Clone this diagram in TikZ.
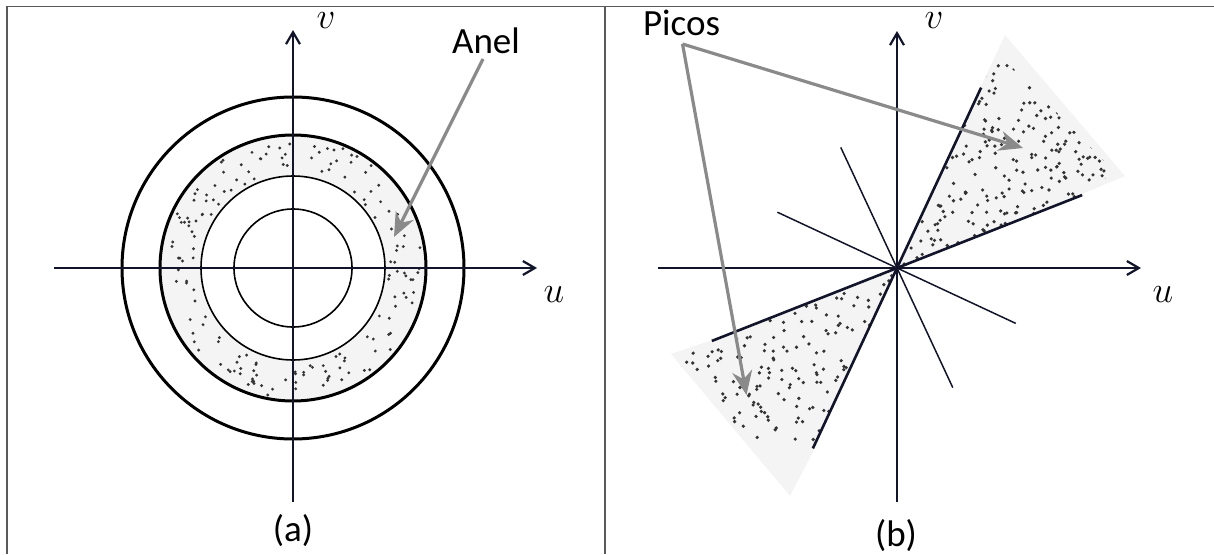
\RequirePackage{fix-cm}
\documentclass[tikz,border=0pt]{standalone}
\usepackage{graphicx}
\usepackage{fontspec}
\setmainfont{Carlito}
\usetikzlibrary{arrows.meta}
\definecolor{axiscol}{RGB}{18,20,42}
\definecolor{ptrcol}{RGB}{138,138,138}
\definecolor{shadecol}{RGB}{244,244,244}
\definecolor{framecol}{RGB}{90,90,90}
\begin{document}
\begin{tikzpicture}[x=1pt,y=-1pt,
  axisline/.style={draw=axiscol,line width=2.2pt,-{Straight Barb[length=12pt,width=14pt,line width=2.2pt]}},
  thickc/.style={draw=black,line width=3pt},
  thinc/.style={draw=black,line width=1.6pt},
  wedgeline/.style={draw=axiscol,line width=2.6pt},
  rayline/.style={draw=axiscol,line width=1.5pt},
  pointer/.style={draw=ptrcol,line width=3.2pt,-{Stealth[length=24pt,width=20pt,inset=8pt]}},
  lbl/.style={font=\fontsize{37}{44}\selectfont,inner sep=0pt},
  mathlbl/.style={font=\fontsize{37}{44}\selectfont,inner sep=0pt},
  dot/.style={fill=black!80}]
\useasboundingbox (0,0) rectangle (1214,554);
% frame
\draw[framecol,line width=1.4pt] (7,554) -- (7,6.5) -- (1214,6.5);
\draw[framecol,line width=1.4pt] (605,6.5) -- (605,554);

% ---------------- panel (a)
\coordinate (oa) at (293,268);
\fill[shadecol,even odd rule] (oa) circle (133) (oa) circle (92);
\pgfmathsetseed{11}
\foreach \k in {1,...,165}{
  \pgfmathsetmacro{\ang}{360*rnd}
  \pgfmathsetmacro{\rad}{10*sqrt(92.16+rnd*76.84)}
  \fill[dot,shift={(oa)}] (\ang:\rad) circle (1.6);
}
\draw[thickc] (oa) circle (171);
\draw[thickc] (oa) circle (133);
\draw[thinc] (oa) circle (92);
\draw[thinc] (oa) circle (59);
\coordinate (axL) at (54,268);
\coordinate (axR) at (537,268);
\coordinate (ayB) at (293,502);
\coordinate (ayT) at (293,30);
\draw[axisline] (axL) -- (axR);
\draw[axisline] (ayB) -- (ayT);
\node[mathlbl] (ua) at (554,295) {$u$};
\node[mathlbl] (va) at (326,21) {$v$};
\node[lbl,anchor=base] (capa) at (293,541.5) {(a)};
\node[lbl,anchor=base] (anel) at (486,53.3) {Anel};
\coordinate (anelfoot) at (483,59);
\coordinate (ringpt) at (394,237);
\draw[pointer] (anelfoot) -- (ringpt);

% ---------------- panel (b)
\coordinate (ob) at (897,268);
\fill[shadecol] (ob) -- (981,86) -- (1005,35) -- (1125,176) -- (1082,194) -- cycle;
\fill[shadecol] (ob) -- (712,340) -- (671,354) -- (790,496) -- (814,450) -- cycle;
\begin{scope}
  \clip (ob) -- (981,86) -- (1000,55) -- (1115,172) -- (1082,194) -- cycle;
  \pgfmathsetseed{5}
  \foreach \k in {1,...,400}{
    \pgfmathsetmacro{\px}{900+rnd*222}
    \pgfmathsetmacro{\py}{60+rnd*205}
    \fill[dot] (\px,\py) circle (1.8);
  }
\end{scope}
\begin{scope}
  \clip (ob) -- (712,340) -- (671,354) -- (790,496) -- (814,450) -- cycle;
  \pgfmathsetseed{9}
  \foreach \k in {1,...,260}{
    \pgfmathsetmacro{\px}{680+rnd*215}
    \pgfmathsetmacro{\py}{270+rnd*170}
    \fill[dot] (\px,\py) circle (1.8);
  }
\end{scope}
\begin{scope}[shift={(ob)},yscale=-1]
  \coordinate (w1a) at (65:199);
  \coordinate (w1b) at (245:199);
  \coordinate (w2a) at (21.5:199);
  \coordinate (w2b) at (201.5:199);
  \coordinate (r1a) at (115:133);
  \coordinate (r1b) at (295:132);
  \coordinate (r2a) at (155:132);
  \coordinate (r2b) at (335:131);
\end{scope}
\draw[wedgeline] (w1a) -- (w1b);
\draw[wedgeline] (w2a) -- (w2b);
\draw[rayline] (r1a) -- (r1b);
\draw[rayline] (r2a) -- (r2b);
\coordinate (bxL) at (658,268);
\coordinate (bxR) at (1141,268);
\coordinate (byB) at (897,502);
\coordinate (byT) at (897,31);
\draw[axisline] (bxL) -- (bxR);
\draw[axisline] (byB) -- (byT);
\node[mathlbl] (ub) at (1163,295) {$u$};
\node[mathlbl] (vb) at (934,21) {$v$};
\node[lbl,anchor=base] (capb) at (896,546) {(b)};
\node[lbl,anchor=base] (picos) at (681.5,35) {Picos};
\coordinate (picosfoot) at (682.5,44);
\coordinate (peak1) at (1023,148);
\coordinate (peak2) at (746.5,395);
\draw[pointer] (picosfoot) -- (peak1);
\draw[pointer] (picosfoot) -- (peak2);
\end{tikzpicture}
\end{document}
